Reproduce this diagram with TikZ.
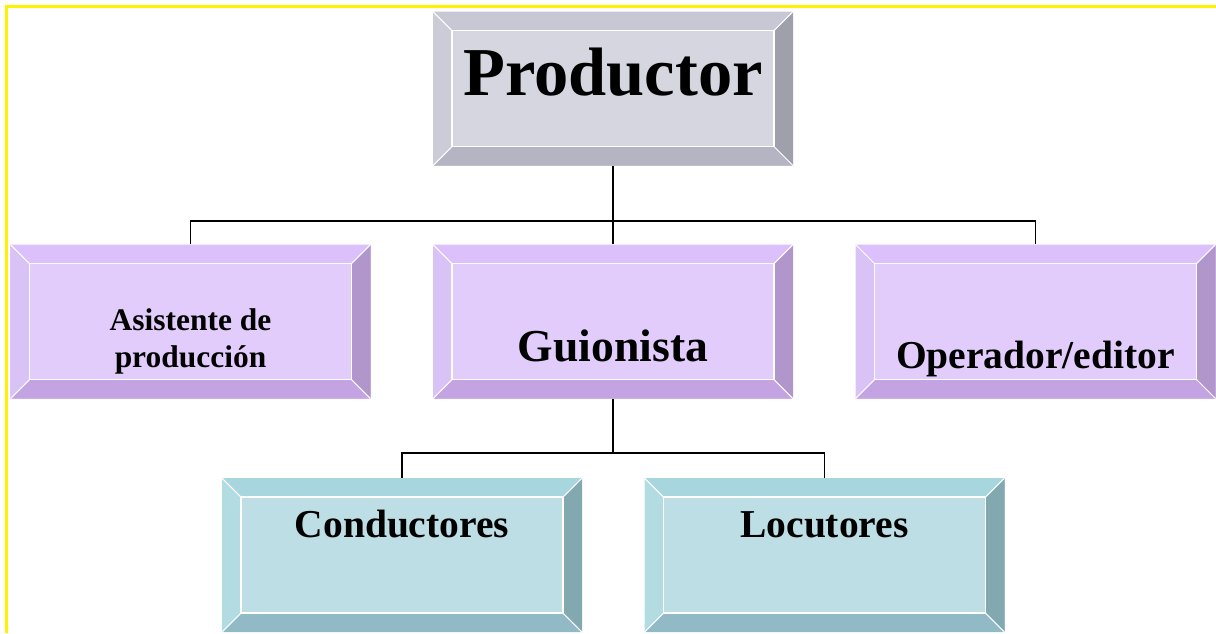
\documentclass[tikz,border=0pt]{standalone}
\usepackage{fontspec}
\setmainfont{Liberation Serif}
\usepackage{xcolor}
\definecolor{prodface}{HTML}{D6D6E0}
\definecolor{prodtop}{HTML}{C8C8D4}
\definecolor{prodleft}{HTML}{CCCCD8}
\definecolor{prodright}{HTML}{A0A0AC}
\definecolor{prodbot}{HTML}{B4B4C2}
\definecolor{roleface}{HTML}{E2CCFC}
\definecolor{roletop}{HTML}{DCC0FC}
\definecolor{roleleft}{HTML}{D9C2F6}
\definecolor{roleright}{HTML}{B196CC}
\definecolor{rolebot}{HTML}{C4A3E3}
\definecolor{crewface}{HTML}{BCDEE4}
\definecolor{crewtop}{HTML}{A8D6DE}
\definecolor{crewleft}{HTML}{B2DCE2}
\definecolor{crewright}{HTML}{82A8B0}
\definecolor{crewbot}{HTML}{92BAC6}
\usetikzlibrary{calc}

\begin{document}
\begin{tikzpicture}
    \tikzset{%
        bevelbox/.style={%
                minimum width=7.2cm, minimum height=3.08cm, inner sep=0pt, fill=#1face,
                path picture={%
                        \coordinate (bnw) at (path picture bounding box.north west);
                        \coordinate (bne) at (path picture bounding box.north east);
                        \coordinate (bsw) at (path picture bounding box.south west);
                        \coordinate (bse) at (path picture bounding box.south east);
                        \coordinate (inw) at ($(bnw)+(0.38, -0.38)$);
                        \coordinate (ine) at ($(bne)+(-0.38, -0.38)$);
                        \coordinate (isw) at ($(bsw)+(0.38, 0.38)$);
                        \coordinate (ise) at ($(bse)+(-0.38, 0.38)$);
                        \fill [#1top] (bnw) -- (bne) -- (ine) -- (inw) -- cycle;
                        \fill [#1left] (bnw) -- (inw) -- (isw) -- (bsw) -- cycle;
                        \fill [#1right] (bne) -- (bse) -- (ise) -- (ine) -- cycle;
                        \fill [#1bot] (bsw) -- (isw) -- (ise) -- (bse) -- cycle;
                        \draw [white, line width=0.6pt] (inw) rectangle (ise);
                        \draw [white, line width=0.6pt] (bnw) -- (inw) (bne) -- (ine) (bsw) -- (isw) (bse) -- (ise);
                    }
            },
        boxtext/.style={font=\bfseries, anchor=base, inner sep=0pt, align=center},
        link/.style={line width=1pt, black}
    }

    \useasboundingbox (0, 0) rectangle (24.32, -12.66);
    \draw [yellow, line width=1.6pt] (0.13, -12.66) -- (0.13, -0.13) -- (24.32, -0.13);

    \node [bevelbox=prod] (prod) at (12.26, -1.77) {};
    \node [bevelbox=role] (asis) at (3.81, -6.43) {};
    \node [bevelbox=role] (guio) at (12.26, -6.43) {};
    \node [bevelbox=role] (oper) at (20.71, -6.43) {};
    \node [bevelbox=crew] (cond) at (8.04, -11.1) {};
    \node [bevelbox=crew] (locu) at (16.49, -11.1) {};

    \node [boxtext] (prodtxt) at ([yshift=-0.13cm]prod.center) {\fontsize{39pt}{39pt}\selectfont Productor};
    \node [boxtext, anchor=center, font=\bfseries\fontsize{17.9pt}{21pt}\selectfont] (asistxt) at ([yshift=-0.39cm]asis.center) {Asistente de\\producción};
    \node [boxtext] (guiotxt) at ([yshift=-0.79cm]guio.center) {\fontsize{26pt}{26pt}\selectfont Guionista};
    \node [boxtext] (opertxt) at ([yshift=-0.93cm]oper.center) {\fontsize{22.5pt}{22.5pt}\selectfont Operador/editor};
    \node [boxtext] (condtxt) at ([yshift=0.36cm]cond.center) {\fontsize{22.5pt}{22.5pt}\selectfont Conductores};
    \node [boxtext] (locutxt) at ([yshift=0.36cm]locu.center) {\fontsize{22.5pt}{22.5pt}\selectfont Locutores};

    \draw [link] (prod.south) -- ++(0, -1.1) coordinate (bustop);
    \draw [link] (asis.north) |- (bustop) -| (oper.north);
    \draw [link] (bustop) -- (guio.north);
    \draw [link] (guio.south) -- ++(0, -1.08) coordinate (buslow);
    \draw [link] (cond.north) |- (buslow) -| (locu.north);
\end{tikzpicture}
\end{document}
